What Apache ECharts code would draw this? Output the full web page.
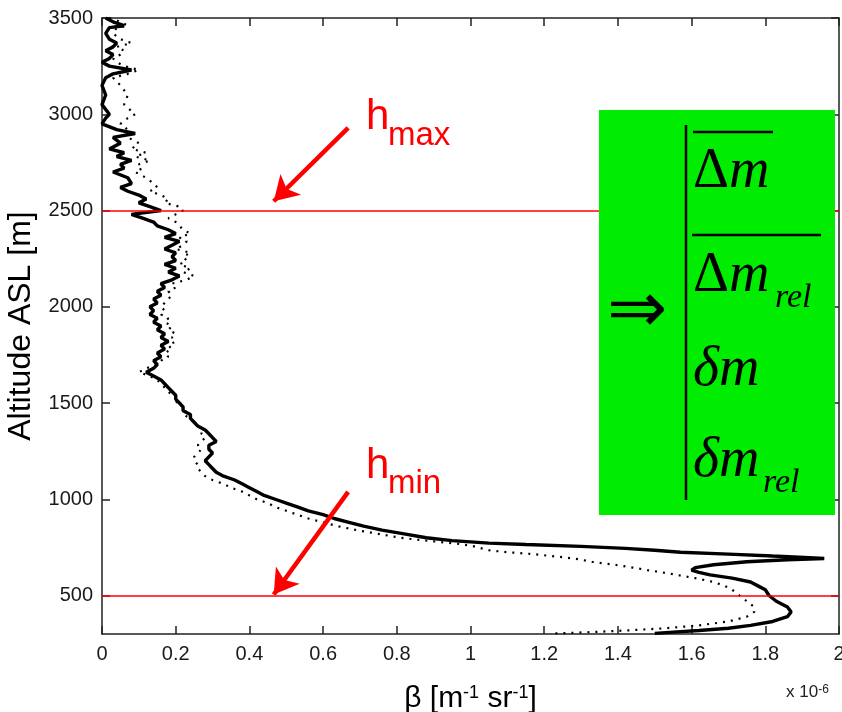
<!DOCTYPE html>
<html>
<head>
<meta charset="utf-8">
<script src="https://cdn.jsdelivr.net/npm/echarts@6/dist/echarts.min.js"></script>
<style>
html,body{margin:0;padding:0;background:#fff;}
#chart{width:842px;height:712px;}
</style>
</head>
<body>
<div id="chart"></div>
<script>
// ---- data (beta in units of 1e-6 m^-1 sr^-1, altitude in m) ----
const altitudes = [
  3500,3480,3460,3450,3420,3390,3370,3350,3330,3310,
  3290,3270,3250,3230,3210,3190,3150,3100,3050,3000,
  2980,2950,2920,2900,2880,2850,2820,2800,2780,2760,
  2740,2720,2700,2670,2640,2620,2600,2580,2560,2540,
  2520,2500,2480,2460,2440,2420,2400,2380,2360,2340,
  2320,2300,2280,2260,2240,2220,2200,2180,2160,2140,
  2120,2100,2080,2060,2040,2020,2000,1980,1960,1940,
  1920,1900,1880,1860,1840,1820,1800,1780,1760,1740,
  1720,1700,1680,1660,1640,1620,1600,1580,1560,1540,
  1520,1500,1480,1460,1440,1420,1400,1380,1360,1340,
  1320,1300,1280,1260,1240,1220,1200,1180,1160,1140,
  1120,1100,1080,1060,1040,1020,1000,980,960,940,
  920,900,880,860,840,820,800,785,772,765,
  755,745,735,725,715,705,697,692,686,675,
  660,645,632,620,607,590,570,550,530,500,
  470,440,415,390,365,345,330,318,310,303
];
const betaSolid = [
  0.01,0.03,0.06,0.02,0.01,0.02,0.04,0.03,0.01,0.03,
  0.02,0.00,0.02,0.08,0.03,0.01,0.00,0.01,0.00,0.02,
  0.01,0.00,0.04,0.09,0.03,0.05,0.02,0.06,0.04,0.08,
  0.05,0.06,0.03,0.07,0.08,0.05,0.07,0.10,0.12,0.10,
  0.13,0.16,0.08,0.11,0.14,0.15,0.18,0.20,0.17,0.21,
  0.19,0.17,0.20,0.19,0.20,0.17,0.20,0.18,0.21,0.19,
  0.16,0.17,0.15,0.16,0.14,0.15,0.13,0.14,0.13,0.15,
  0.14,0.16,0.15,0.17,0.16,0.18,0.16,0.17,0.15,0.16,
  0.14,0.15,0.14,0.12,0.14,0.16,0.17,0.18,0.19,0.20,
  0.20,0.21,0.22,0.22,0.24,0.24,0.25,0.26,0.28,0.29,
  0.30,0.31,0.29,0.29,0.30,0.29,0.28,0.29,0.30,0.31,
  0.33,0.36,0.38,0.40,0.42,0.44,0.47,0.50,0.53,0.56,
  0.60,0.63,0.67,0.71,0.76,0.82,0.88,0.95,1.05,1.15,
  1.30,1.42,1.50,1.57,1.70,1.82,1.92,1.96,1.86,1.75,
  1.66,1.61,1.60,1.62,1.65,1.71,1.76,1.78,1.80,1.81,
  1.83,1.86,1.87,1.86,1.82,1.76,1.70,1.62,1.55,1.50
];
const betaDotted = [
  0.02,0.05,0.07,0.04,0.03,0.05,0.08,0.04,0.06,0.05,
  0.03,0.04,0.06,0.10,0.07,0.03,0.05,0.07,0.06,0.09,
  0.07,0.05,0.07,0.08,0.07,0.10,0.08,0.12,0.09,0.13,
  0.10,0.11,0.09,0.12,0.14,0.15,0.13,0.16,0.18,0.17,
  0.21,0.22,0.20,0.18,0.20,0.21,0.22,0.24,0.21,0.23,
  0.22,0.20,0.24,0.22,0.23,0.21,0.24,0.22,0.25,0.23,
  0.19,0.20,0.18,0.19,0.18,0.17,0.16,0.17,0.16,0.18,
  0.17,0.19,0.18,0.20,0.19,0.20,0.18,0.19,0.17,0.18,
  0.16,0.15,0.12,0.10,0.13,0.15,0.16,0.17,0.18,0.19,
  0.21,0.20,0.22,0.23,0.22,0.24,0.25,0.26,0.27,0.27,
  0.28,0.27,0.26,0.27,0.26,0.25,0.25,0.26,0.26,0.27,
  0.28,0.30,0.33,0.35,0.38,0.40,0.42,0.45,0.47,0.50,
  0.53,0.56,0.60,0.64,0.69,0.75,0.81,0.88,0.95,0.98,
  1.01,1.03,1.05,1.10,1.17,1.22,1.26,1.28,1.30,1.33,
  1.39,1.44,1.48,1.52,1.56,1.61,1.66,1.69,1.71,1.73,
  1.75,1.77,1.77,1.75,1.70,1.62,1.53,1.42,1.33,1.23
];
const xTicks = [0,0.2,0.4,0.6,0.8,1,1.2,1.4,1.6,1.8,2];
const yTicks = [500,1000,1500,2000,2500,3000,3500];
const hLines = [2500, 500];           // h_max, h_min altitudes
const arrowMax = [[0.668, 2929], [0.466, 2548]];
const arrowMin = [[0.668, 1038], [0.466, 505]];

const solidData = altitudes.map((a, i) => [betaSolid[i], a]);
const dottedData = altitudes.map((a, i) => [betaDotted[i], a]);

const chart = echarts.init(document.getElementById('chart'), null, {renderer: 'canvas'});
const axisColor = '#222';
const tickFont = {fontFamily: 'Liberation Sans, Arial', fontSize: 20, color: '#1a1a1a'};

const option = {
  backgroundColor: '#ffffff',
  animation: false,
  grid: {left: 102, right: 3, top: 18, bottom: 78, containLabel: false, outerBoundsMode: 'none'},
  xAxis: [{
    type: 'value', min: 0, max: 2, position: 'bottom',
    axisLine: {show: true, onZero: false, lineStyle: {color: axisColor, width: 1.5}},
    axisTick: {show: true, inside: true, length: 8, customValues: xTicks, lineStyle: {color: axisColor, width: 1.5}},
    axisLabel: Object.assign({margin: 10, customValues: xTicks, hideOverlap: false, formatter: v => String(parseFloat(v.toFixed(1)))}, tickFont),
    splitLine: {show: false},
    name: '{a|β [m}{s|-1}{a| sr}{s|-1}{a|]}',
    nameLocation: 'middle', nameGap: 50,
    nameTextStyle: {rich: {
      a: {fontFamily: 'Liberation Sans, Arial', fontSize: 30, color: '#000'},
      s: {fontFamily: 'Liberation Sans, Arial', fontSize: 18, color: '#000', verticalAlign: 'top'}
    }}
  }, {
    type: 'value', min: 0, max: 2, position: 'top',
    axisLine: {show: true, onZero: false, lineStyle: {color: axisColor, width: 1.5}},
    axisTick: {show: true, inside: true, length: 8, customValues: xTicks, lineStyle: {color: axisColor, width: 1.5}},
    axisLabel: {show: false}, splitLine: {show: false}
  }],
  yAxis: [{
    type: 'value', min: 300, max: 3500, position: 'left',
    axisLine: {show: true, onZero: false, lineStyle: {color: axisColor, width: 1.5}},
    axisTick: {show: true, inside: true, length: 8, customValues: yTicks, lineStyle: {color: axisColor, width: 1.5}},
    axisLabel: Object.assign({margin: 9, customValues: yTicks, hideOverlap: false, formatter: v => String(v)}, tickFont),
    splitLine: {show: false},
    name: 'Altitude ASL [m]', nameLocation: 'middle', nameGap: 64,
    nameTextStyle: {fontFamily: 'Liberation Sans, Arial', fontSize: 32, color: '#000'}
  }, {
    type: 'value', min: 300, max: 3500, position: 'right',
    axisLine: {show: true, onZero: false, lineStyle: {color: axisColor, width: 1.5}},
    axisTick: {show: true, inside: true, length: 8, customValues: yTicks, lineStyle: {color: axisColor, width: 1.5}},
    axisLabel: {show: false}, splitLine: {show: false}
  }],
  series: [
    {
      type: 'line', name: 'dotted', data: dottedData, showSymbol: false, symbol: 'none',
      lineStyle: {color: '#000', width: 2.2, type: [2, 6]}, z: 3, silent: true
    },
    {
      type: 'line', name: 'solid', data: solidData, showSymbol: false, symbol: 'none',
      lineStyle: {color: '#000', width: 3.4}, z: 4, silent: true,
      markLine: {
        silent: true, animation: false,
        label: {show: false},
        symbol: ['none', 'none'],
        lineStyle: {color: '#ff0000', width: 1.5, type: 'solid'},
        data: hLines.map(h => ({yAxis: h}))
      }
    },
    {
      type: 'line', name: 'arrows', data: [], showSymbol: false, z: 6, silent: true,
      markLine: {
        silent: true, animation: false,
        label: {show: false},
        symbol: ['none', 'arrow'], symbolSize: [22, 24],
        lineStyle: {color: '#ff0000', width: 4.5, type: 'solid'},
        itemStyle: {color: '#ff0000'},
        data: [
          [{coord: arrowMax[0]}, {coord: arrowMax[1]}],
          [{coord: arrowMin[0]}, {coord: arrowMin[1]}]
        ]
      }
    }
  ],
  graphic: [
    // h labels
    {type: 'text', x: 366, y: 138, z: 120, style: {text: 'h', font: '42px "Liberation Sans"', fill: '#ff0000', verticalAlign: 'bottom'}},
    {type: 'text', x: 388, y: 152, z: 120, style: {text: 'max', font: '33px "Liberation Sans"', fill: '#ff0000', verticalAlign: 'bottom'}},
    {type: 'text', x: 366, y: 487, z: 120, style: {text: 'h', font: '42px "Liberation Sans"', fill: '#ff0000', verticalAlign: 'bottom'}},
    {type: 'text', x: 388, y: 500, z: 120, style: {text: 'min', font: '33px "Liberation Sans"', fill: '#ff0000', verticalAlign: 'bottom'}},
    // x 10^-6
    {type: 'text', x: 786, y: 692, z: 120, style: {
      text: '{a|x 10}{s|-6}', verticalAlign: 'middle',
      rich: {a: {font: '17px "Liberation Sans"', fill: '#222'}, s: {font: '12px "Liberation Sans"', fill: '#222', verticalAlign: 'top'}}
    }},
    // green box
    {type: 'rect', z: 100, shape: {x: 599, y: 110, width: 236, height: 405}, style: {fill: '#00ec00'}},
    {type: 'text', x: 607, y: 313, z: 110, style: {text: '⇒', font: '72px "DejaVu Sans"', fill: '#000', verticalAlign: 'middle'}},
    {type: 'line', z: 110, shape: {x1: 686, y1: 125, x2: 686, y2: 500}, style: {stroke: '#000', lineWidth: 2.5}},
    {type: 'line', z: 110, shape: {x1: 693, y1: 132, x2: 773, y2: 132}, style: {stroke: '#000', lineWidth: 2.5}},
    {type: 'line', z: 110, shape: {x1: 692, y1: 235, x2: 821, y2: 235}, style: {stroke: '#000', lineWidth: 2.5}},
    {type: 'text', x: 693, y: 172, z: 110, style: {
      text: '{u|Δ}{i|m}', verticalAlign: 'middle',
      rich: {u: {font: '56px "Liberation Serif"', fill: '#000'}, i: {font: 'italic 56px "Liberation Serif"', fill: '#000'}}
    }},
    {type: 'text', x: 693, y: 276, z: 110, style: {
      text: '{u|Δ}{i|m}', verticalAlign: 'middle',
      rich: {u: {font: '56px "Liberation Serif"', fill: '#000'}, i: {font: 'italic 56px "Liberation Serif"', fill: '#000'}}
    }},
    {type: 'text', x: 775, y: 298, z: 110, style: {text: 'rel', font: 'italic 34px "Liberation Serif"', fill: '#000', verticalAlign: 'middle'}},
    {type: 'text', x: 693, y: 370, z: 110, style: {text: 'δm', font: 'italic 56px "Liberation Serif"', fill: '#000', verticalAlign: 'middle'}},
    {type: 'text', x: 693, y: 461, z: 110, style: {text: 'δm', font: 'italic 56px "Liberation Serif"', fill: '#000', verticalAlign: 'middle'}},
    {type: 'text', x: 763, y: 483, z: 110, style: {text: 'rel', font: 'italic 34px "Liberation Serif"', fill: '#000', verticalAlign: 'middle'}}
  ]
};
chart.setOption(option);
</script>
</body>
</html>
